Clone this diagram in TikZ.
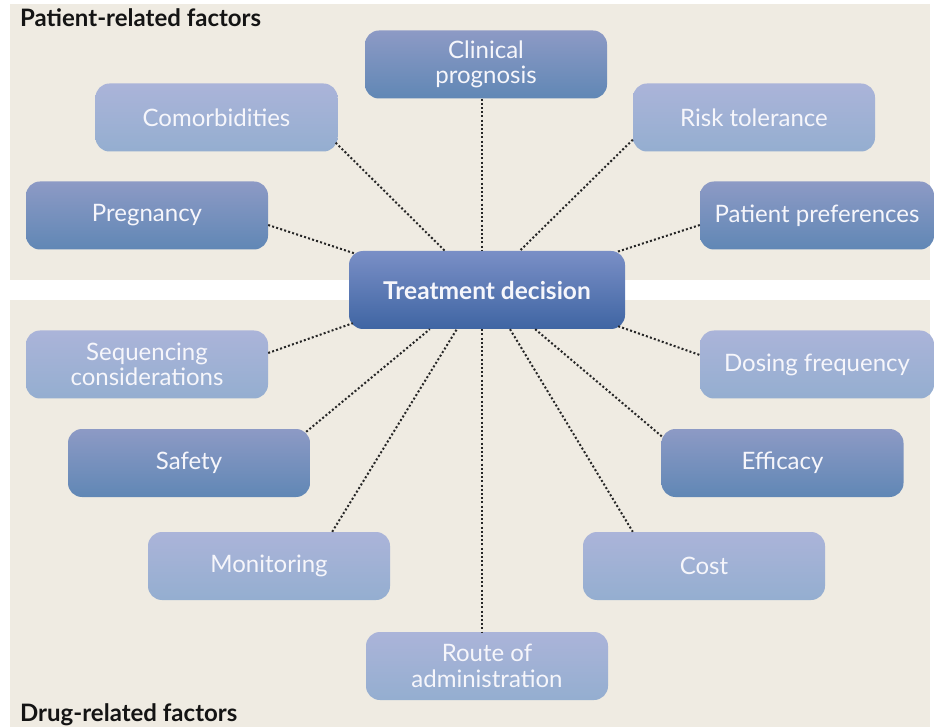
\documentclass[tikz,border=0pt]{standalone}
\usepackage{fontspec}
\setmainfont{Lato}
\usetikzlibrary{calc}
\definecolor{beige}{HTML}{EFEBE2}
\definecolor{darktop}{HTML}{8D9AC5}
\definecolor{darkbot}{HTML}{6087B5}
\definecolor{lighttop}{HTML}{ABB4D9}
\definecolor{lightbot}{HTML}{94AED0}
\definecolor{centtop}{HTML}{7A8FC6}
\definecolor{centbot}{HTML}{3F65A3}
\definecolor{boxtext}{HTML}{F6F6FB}
\tikzset{
  factor/.style={rounded corners=14pt, minimum width=242pt, minimum height=68pt,
    inner sep=0pt, align=center, text=boxtext,
    font=\fontsize{24}{25.5}\selectfont},
  darkbox/.style={factor, top color=darktop, bottom color=darkbot},
  lightbox/.style={factor, top color=lighttop, bottom color=lightbot},
  centbox/.style={rounded corners=14pt, minimum width=276pt, minimum height=78pt,
    inner sep=0pt, text=boxtext, top color=centtop, bottom color=centbot,
    font=\fontsize{24.5}{27}\selectfont\bfseries},
  link/.style={line width=2pt, dash pattern=on 2pt off 2.2pt, black!85},
  heading/.style={font=\fontsize{24}{26}\selectfont\bfseries, text=black!92, inner sep=0pt, anchor=base west}
}
\begin{document}
\begin{tikzpicture}[x=1pt,y=-1pt]
\useasboundingbox (0,0) rectangle (935,727);
\fill[white] (0,0) rectangle (935,727);
\fill[beige] (10,4) rectangle (930,280);
\fill[beige] (10,300) rectangle (930,727);

\node[heading] (ptitle) at (20,27) {Patient-related factors};
\node[heading] (dtitle) at (20,721) {Drug-related factors};

\node[centbox] (td) at (487,290) {Treatment decision};

\node[darkbox] (cp) at (486,64.5) {Clinical\\prognosis};
\node[lightbox] (com) at (216.5,117.5) {Comorbidities};
\node[darkbox] (preg) at (147,215.5) {Pregnancy};
\node[lightbox] (risk) at (754,117.5) {Risk tolerance};
\node[darkbox, minimum width=234pt] (pp) at (817,215.5) {Patient preferences};

\node[lightbox] (seq) at (147,364.5) {Sequencing\\considerations};
\node[darkbox] (safe) at (189,463) {Safety};
\node[lightbox, minimum width=234pt] (dose) at (817,364.5) {Dosing frequency};
\node[darkbox] (eff) at (782.5,463) {Efficacy};
\node[lightbox] (mon) at (269,566) {Monitoring};
\node[lightbox] (cost) at (704,566) {Cost};
\node[lightbox] (route) at (487,666) {Route of\\administration};

\draw[link] ($(cp.south)+(-4,0)$) -- ($(td.north)+(-5,0)$);
\draw[link] ($(com.south east)+(-2,-9)$) -- ($(td.north west)+(96,0)$);
\draw[link] ($(preg.east)+(0,9.5)$) -- ($(td.north west)+(7,3)$);
\draw[link] ($(risk.south west)+(0,-12)$) -- ($(td.north west)+(171,0)$);
\draw[link] ($(pp.west)+(0,9.5)$) -- ($(td.north east)+(-8,1)$);

\draw[link] ($(seq.east)+(0,-11.5)$) -- ($(td.south west)+(4,-6)$);
\draw[link] ($(safe.north east)+(-4,3)$) -- ($(td.south west)+(81,0)$);
\draw[link] ($(mon.north east)+(-58,0)$) -- ($(td.south west)+(108,0)$);
\draw[link] ($(td.south)+(-5,0)$) -- ($(route.north)+(-5,0)$);
\draw[link] ($(td.south east)+(-7,-3)$) -- ($(dose.west)+(0,-9.5)$);
\draw[link] ($(td.south east)+(-90,0)$) -- ($(eff.north west)+(1,8)$);
\draw[link] ($(td.south)+(23,0)$) -- ($(cost.north west)+(50,0)$);
\end{tikzpicture}
\end{document}
